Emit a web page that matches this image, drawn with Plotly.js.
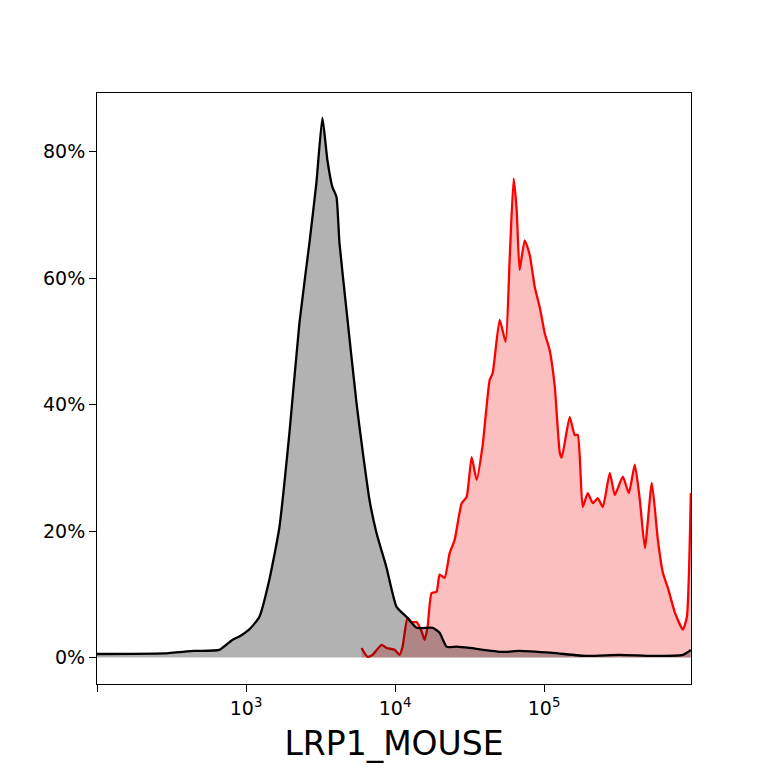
<!DOCTYPE html>
<html>
<head>
<meta charset="utf-8">
<script src="https://cdn.plot.ly/plotly-3.0.1.min.js"></script>
<style>
  html, body { margin: 0; padding: 0; background: #fff; }
  #chart { width: 768px; height: 768px; }
</style>
</head>
<body>
<div id="chart"></div>
<script>
// control sample (black / gray)
var ctrlX = [100, 282, 450, 662, 809, 902, 1052, 1228, 1434, 1675, 1955, 2282, 2664, 2966, 3256,
  3516, 3800, 4044, 4236, 4721, 5510, 6050, 6740, 7510, 8770, 10240, 11950, 13960, 17860,
  19910, 22190, 25890, 31640, 52670, 68640, 114400, 193500, 322400, 537500, 853900, 966000]
var ctrlY = [0.55, 0.63, 1.03, 1.19, 2.77, 3.32, 4.43, 6.41, 12.3, 20.6, 35.5, 52.9, 65.6, 75.1, 85.4,
  78.7, 74.4, 72.9, 65.6, 55.0, 40.3, 32.8, 24.9, 19.7, 14.2, 8.0, 6.4, 4.7, 4.7,
  3.9, 1.7, 1.7, 1.5, 0.87, 1.03, 0.71, 0.24, 0.4, 0.24, 0.4, 1.19]

// stained sample (red)
var stainX = [5960, 6535, 7060, 8110, 8770, 9930, 10720, 11230, 12140, 12910, 13960, 15080, 15790,
  16530, 17590, 19010, 19910, 21510, 23250, 25120, 27990, 30230, 32660, 35280, 38730, 43150,
  45200, 50350, 55230, 58750, 62500, 65480, 68560, 74110, 80100, 86580, 93520, 101000, 109100,
  118000, 127500, 131400, 148600, 160600, 168300, 181700, 196400, 212300, 229300, 247800,
  276200, 298400, 337600, 370400, 406300, 439200, 474700, 528800, 580200, 627000, 677300,
  755000, 853900, 908300, 966000]
var stainY = [1.5, 0.1, 0.4, 2.0, 1.5, 1.2, 0.4, 1.7, 6.3, 5.6, 5.6, 4.1, 2.8,
  4.8, 10.2, 10.4, 13.1, 12.6, 16.5, 18.6, 24.4, 25.4, 31.7, 28.1, 33.6, 43.9,
  45.0, 53.4, 49.9, 62.9, 75.8, 70.8, 61.3, 66.0, 63.7, 58.6, 55.4, 51.3, 48.6,
  42.8, 32.4, 31.6, 38.0, 35.2, 35.2, 23.8, 26.0, 24.4, 25.2, 23.8,
  29.2, 25.7, 28.6, 26.0, 30.5, 24.9, 17.3, 27.6, 18.6, 13.4, 11.0,
  7.1, 4.4, 6.4, 26.0]

var xTickVals = [100, 1000, 10000, 100000]
var xTickText = ['', '10<sup>3</sup>', '10<sup>4</sup>', '10<sup>5</sup>']
var yTickVals = [0, 20, 40, 60, 80]
var yTickText = ['0%', '20%', '40%', '60%', '80%']

var font = 'DejaVu Sans, sans-serif'

var traces = [
  {
    x: stainX,
    y: stainY,
    type: 'scatter',
    mode: 'lines',
    fill: 'tozeroy',
    fillcolor: 'rgba(245,0,0,0.25)',
    line: {color: '#ff0000', width: 2.3, shape: 'spline', smoothing: 0.5},
    hoverinfo: 'skip'
  },
  {
    x: ctrlX,
    y: ctrlY,
    type: 'scatter',
    mode: 'lines',
    fill: 'tozeroy',
    fillcolor: 'rgba(0,0,0,0.3)',
    line: {color: '#000000', width: 2.3, shape: 'spline', smoothing: 0.5},
    hoverinfo: 'skip'
  }
]

var layout = {
  width: 768,
  height: 768,
  margin: {l: 97, r: 77, t: 93, b: 84},
  paper_bgcolor: '#ffffff',
  plot_bgcolor: '#ffffff',
  showlegend: false,
  font: {family: font, color: '#000', size: 19},
  xaxis: {
    type: 'log',
    range: [2.0, 5.986],
    tickmode: 'array',
    tickvals: xTickVals,
    ticktext: xTickText,
    ticks: 'outside',
    ticklen: 7,
    tickwidth: 1,
    tickcolor: '#000',
    showline: true,
    linecolor: '#000',
    linewidth: 1,
    mirror: true,
    showgrid: false,
    zeroline: false,
    tickfont: {family: font, size: 19},
    title: {text: 'LRP1_MOUSE', font: {family: font, size: 33}, standoff: 14}
  },
  yaxis: {
    range: [-4.2, 89.3],
    tickmode: 'array',
    tickvals: yTickVals,
    ticktext: yTickText,
    ticks: 'outside',
    ticklen: 7,
    tickwidth: 1,
    tickcolor: '#000',
    showline: true,
    linecolor: '#000',
    linewidth: 1,
    mirror: true,
    showgrid: false,
    zeroline: false,
    tickfont: {family: font, size: 19}
  }
}

Plotly.newPlot(document.getElementById('chart'), traces, layout, {staticPlot: true, displayModeBar: false})
</script>
</body>
</html>
